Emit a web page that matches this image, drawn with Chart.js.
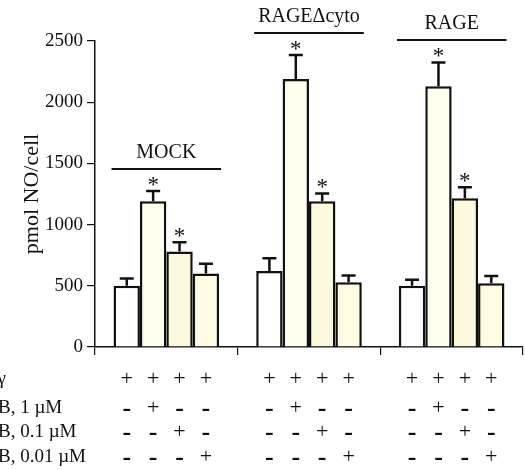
<!DOCTYPE html>
<html>
<head>
<meta charset="utf-8">
<script src="https://cdn.jsdelivr.net/npm/chart.js@4"></script>
<style>
  html, body { margin: 0; padding: 0; background: #fff; }
  #wrap { width: 525px; height: 470px; }
</style>
</head>
<body>
<div id="wrap"><canvas id="noChart" width="525" height="470"></canvas></div>
<script>
// groups and bar values (pmol NO/cell)
const groups = ['MOCK', 'RAGE\u0394cyto', 'RAGE'];
const controlVals = [500, 620, 500];
const dose1Vals = [1190, 2190, 2130];
const dose01Vals = [780, 1190, 1215];
const dose001Vals = [600, 530, 520];

// error bars (SD above the bar)
const controlErr = [60, 105, 50];
const dose1Err = [85, 195, 195];
const dose01Err = [75, 65, 90];
const dose001Err = [80, 55, 60];

// significance marks
const controlStar = [false, false, false];
const dose1Star = [true, true, true];
const dose01Star = [true, true, true];
const dose001Star = [false, false, false];

const yTicks = [0, 500, 1000, 1500, 2000, 2500];
// heights of the group bracket lines, in axis units
const bracketLevels = [1455, 2565, 2508];

// treatment table under the axis
const rowLabels = ['IFN-\u03b3', 'B, 1 \u00b5M', 'B, 0.1 \u00b5M', 'B, 0.01 \u00b5M'];
const rowSigns = [
  ['+', '+', '+', '+'],
  ['-', '+', '-', '-'],
  ['-', '-', '+', '-'],
  ['-', '-', '-', '+']
];

const serif = '"Liberation Serif", "DejaVu Serif", serif';
const errs = [controlErr, dose1Err, dose01Err, dose001Err];
const stars = [controlStar, dose1Star, dose01Star, dose001Star];

const extras = {
  id: 'extras',
  afterDatasetsDraw(chart) {
    const ctx = chart.ctx;
    const y = chart.scales.y;
    const area = chart.chartArea;
    ctx.save();

    // error bars + asterisks
    chart.data.datasets.forEach(function(ds, i) {
      const meta = chart.getDatasetMeta(i);
      meta.data.forEach(function(bar, j) {
        const top = y.getPixelForValue(ds.data[j] + errs[i][j]);
        ctx.strokeStyle = '#111';
        ctx.lineWidth = 2.5;
        ctx.beginPath();
        ctx.moveTo(bar.x, bar.y);
        ctx.lineTo(bar.x, top);
        ctx.moveTo(bar.x - 7, top);
        ctx.lineTo(bar.x + 7, top);
        ctx.stroke();
        if (stars[i][j]) {
          ctx.fillStyle = '#111';
          ctx.font = '23px ' + serif;
          ctx.textAlign = 'center';
          ctx.textBaseline = 'alphabetic';
          ctx.fillText('*', bar.x, top + 1);
        }
      });
    });

    // group brackets and names
    const first = chart.getDatasetMeta(0).data;
    const last = chart.getDatasetMeta(3).data;
    groups.forEach(function(name, j) {
      const x0 = first[j].x - first[j].width / 2 - 2;
      const x1 = last[j].x + last[j].width / 2 + 2;
      const ly = y.getPixelForValue(bracketLevels[j]);
      ctx.strokeStyle = '#111';
      ctx.lineWidth = 2;
      ctx.beginPath();
      ctx.moveTo(x0, ly);
      ctx.lineTo(x1, ly);
      ctx.stroke();
      ctx.fillStyle = '#111';
      ctx.font = '20px ' + serif;
      ctx.textAlign = 'center';
      ctx.textBaseline = 'alphabetic';
      ctx.fillText(name, (x0 + x1) / 2, ly - 11);
    });

    // y axis title
    ctx.save();
    ctx.translate(32, (area.top + area.bottom) / 2);
    ctx.rotate(-Math.PI / 2);
    ctx.font = '22px ' + serif;
    ctx.textAlign = 'center';
    ctx.textBaseline = 'middle';
    ctx.fillStyle = '#111';
    ctx.fillText('pmol NO/cell', 0, 0);
    ctx.restore();

    // treatment table
    const rowY = [379, 408, 432, 457];
    rowSigns.forEach(function(signs, r) {
      ctx.fillStyle = '#111';
      ctx.textBaseline = 'middle';
      ctx.font = '19px ' + serif;
      if (r === 0) {
        ctx.textAlign = 'right';
        ctx.fillText(rowLabels[r], 6, rowY[r]);
      } else {
        ctx.textAlign = 'left';
        ctx.fillText(rowLabels[r], -2, rowY[r]);
      }
      groups.forEach(function(g, j) {
        signs.forEach(function(s, i) {
          const bx = chart.getDatasetMeta(i).data[j].x;
          ctx.textAlign = 'center';
          if (s === '+') {
            ctx.font = '22px ' + serif;
            ctx.fillText('+', bx, rowY[r]);
          } else {
            ctx.font = 'bold 26px ' + serif;
            ctx.fillText('-', bx, rowY[r] + 1);
          }
        });
      });
    });

    ctx.restore();
  }
};

const ctx = document.getElementById('noChart').getContext('2d');
const noChart = new Chart(ctx, {
  type: 'bar',
  data: {
    labels: groups,
    datasets: [
      { label: 'control', data: controlVals, backgroundColor: '#ffffff' },
      { label: '1 uM', data: dose1Vals, backgroundColor: '#fffff0' },
      { label: '0.1 uM', data: dose01Vals, backgroundColor: '#fcf9df' },
      { label: '0.01 uM', data: dose001Vals, backgroundColor: '#fffbe3' }
    ]
  },
  options: {
    responsive: false,
    animation: false,
    events: [],
    layout: { padding: { top: 41, right: 2, left: 0, bottom: 0 } },
    datasets: {
      bar: {
        categoryPercentage: 0.74,
        barPercentage: 1,
        borderColor: '#111',
        borderWidth: 2.5
      }
    },
    plugins: {
      legend: { display: false },
      tooltip: { enabled: false }
    },
    scales: {
      x: {
        offset: true,
        afterFit: function(scale) { scale.height = 123; },
        ticks: { display: false },
        grid: {
          offset: true,
          drawOnChartArea: false,
          tickLength: 8,
          color: '#111',
          lineWidth: 1.2
        },
        border: { color: '#111', width: 1.5 }
      },
      y: {
        min: 0,
        max: 2500,
        afterFit: function(scale) { scale.width = 95; },
        afterBuildTicks: function(scale) {
          scale.ticks = yTicks.map(function(v) { return { value: v }; });
        },
        ticks: {
          color: '#111',
          padding: 4,
          font: { family: serif, size: 19 },
          callback: function(v) { return String(v); }
        },
        grid: {
          drawOnChartArea: false,
          tickLength: 8,
          color: '#111',
          lineWidth: 1.2
        },
        border: { color: '#111', width: 1.5 }
      }
    }
  },
  plugins: [extras]
});
</script>
</body>
</html>
